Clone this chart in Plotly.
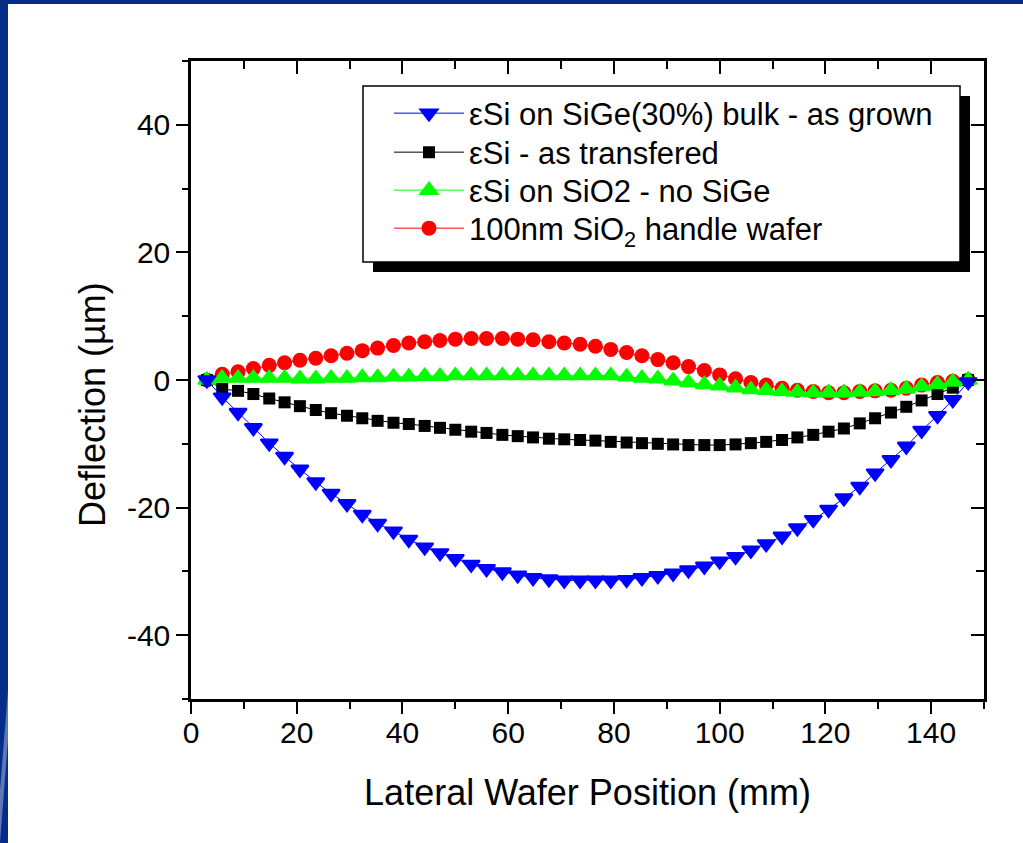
import plotly.graph_objects as go

# ---------------- data ----------------
position_mm = [3.0, 5.9, 8.9, 11.8, 14.8, 17.7, 20.6, 23.6, 26.5, 29.5,
               32.4, 35.3, 38.3, 41.2, 44.2, 47.1, 50.0, 53.0, 55.9, 58.9,
               61.8, 64.7, 67.7, 70.6, 73.6, 76.5, 79.4, 82.4, 85.3, 88.3,
               91.2, 94.1, 97.1, 100.0, 103.0, 105.9, 108.8, 111.8, 114.7, 117.7,
               120.6, 123.5, 126.5, 129.4, 132.4, 135.3, 138.2, 141.2, 144.1, 147.0]

as_grown = [0.0, -2.7, -5.1, -7.5, -9.9, -12.0, -14.0, -16.0, -17.8, -19.4,
            -21.1, -22.5, -23.7, -25.0, -26.2, -27.1, -28.0, -28.9, -29.6, -30.1,
            -30.6, -31.0, -31.2, -31.4, -31.4, -31.4, -31.4, -31.3, -31.0, -30.7,
            -30.3, -29.8, -29.2, -28.4, -27.7, -26.7, -25.7, -24.5, -23.2, -21.9,
            -20.3, -18.5, -16.7, -14.6, -12.5, -10.4, -7.9, -5.6, -3.1, -0.3]

as_transfered = [0.0, -1.4, -1.7, -2.2, -2.9, -3.5, -4.1, -4.7, -5.2, -5.6,
                 -6.0, -6.4, -6.7, -6.9, -7.2, -7.5, -7.8, -8.1, -8.3, -8.6,
                 -8.8, -9.0, -9.2, -9.3, -9.4, -9.5, -9.7, -9.8, -9.9, -10.0,
                 -10.1, -10.2, -10.2, -10.2, -10.1, -9.9, -9.7, -9.4, -9.0, -8.6,
                 -8.1, -7.6, -6.8, -6.0, -5.1, -4.2, -3.2, -2.2, -1.2, 0.0]

no_sige = [0.0, 0.3, 0.3, 0.3, 0.3, 0.3, 0.2, 0.2, 0.3, 0.3,
           0.4, 0.4, 0.5, 0.5, 0.6, 0.6, 0.7, 0.7, 0.7, 0.7,
           0.7, 0.7, 0.7, 0.7, 0.7, 0.7, 0.7, 0.5, 0.3, 0.2,
           -0.1, -0.4, -0.7, -0.9, -1.2, -1.5, -1.6, -1.8, -1.9, -2.0,
           -2.0, -2.0, -1.9, -1.8, -1.6, -1.4, -1.0, -0.7, -0.3, 0.0]

handle_wafer = [0.0, 0.9, 1.3, 1.8, 2.3, 2.7, 3.1, 3.4, 3.8, 4.2,
                4.6, 5.0, 5.4, 5.8, 6.0, 6.2, 6.4, 6.5, 6.5, 6.5,
                6.4, 6.3, 6.0, 5.8, 5.6, 5.3, 4.8, 4.3, 3.8, 3.2,
                2.7, 2.1, 1.5, 0.8, 0.2, -0.4, -0.8, -1.3, -1.6, -1.8,
                -2.0, -2.0, -1.8, -1.7, -1.6, -1.3, -0.8, -0.4, -0.2, 0.0]

series_names = ["εSi on SiGe(30%) bulk - as grown",
                "εSi - as transfered",
                "εSi on SiO2 - no SiGe",
                "100nm SiO<sub>2</sub> handle wafer"]

x_tick_vals = [0, 20, 40, 60, 80, 100, 120, 140]
x_tick_text = ["0", "20", "40", "60", "80", "100", "120", "140"]
y_tick_vals = [-40, -20, 0, 20, 40]
y_tick_text = ["-40", "-20", "0", "20", "40"]

x_title = "Lateral Wafer Position (mm)"
y_title = "Deflection (µm)"

# ---------------- layout geometry ----------------
W, H = 1023, 843
L, R, T, B = 191, 39, 61, 144
PW, PH = W - L - R, H - T - B
FONT = "Arial, 'Liberation Sans', sans-serif"


def px(xp):
    return (xp - L) / PW


def py(yp):
    return 1 - (yp - T) / PH


fig = go.Figure()

# draw order: red, black, green, blue (blue on top); each entry has its own legend row
fig.add_trace(go.Scatter(x=position_mm, y=handle_wafer, name=series_names[3],
                         mode="lines+markers", legend="legend4",
                         line=dict(color="#ff0000", width=1),
                         marker=dict(symbol="circle", size=15, color="#ff0000")))
fig.add_trace(go.Scatter(x=position_mm, y=as_transfered, name=series_names[1],
                         mode="lines+markers", legend="legend2",
                         line=dict(color="#000000", width=1),
                         marker=dict(symbol="square", size=12, color="#000000")))
fig.add_trace(go.Scatter(x=position_mm, y=no_sige, name=series_names[2],
                         mode="lines+markers", legend="legend3",
                         line=dict(color="#00ff00", width=1),
                         marker=dict(symbol="triangle-up", size=15, color="#00ff00",
                                     line=dict(color="#00ff00", width=2))))
fig.add_trace(go.Scatter(x=position_mm, y=as_grown, name=series_names[0],
                         mode="lines+markers", legend="legend",
                         line=dict(color="#0000ff", width=1),
                         marker=dict(symbol="triangle-down", size=15, color="#0000ff",
                                     line=dict(color="#0000ff", width=2))))
# empty trace so that the mirrored (top / right) frame axes are drawn
fig.add_trace(go.Scatter(x=[], y=[], xaxis="x2", yaxis="y2", showlegend=False,
                         hoverinfo="skip"))

axis_common = dict(showline=True, linecolor="black", linewidth=2.5,
                   showgrid=False, zeroline=False, tickcolor="black", tickwidth=2)


def legend_row(yc):
    return dict(x=px(363), y=py(yc), xanchor="left", yanchor="middle",
                bgcolor="rgba(0,0,0,0)", borderwidth=0,
                font=dict(family=FONT, size=31, color="black"),
                itemwidth=70, indentation=26)


fig.update_layout(
    width=W, height=H,
    margin=dict(l=L, r=R, t=T, b=B, autoexpand=False),
    paper_bgcolor="white", plot_bgcolor="white",
    font=dict(family=FONT, color="black", size=30),
    showlegend=True,
    legend=legend_row(113.5),
    legend2=legend_row(152.5),
    legend3=legend_row(190.5),
    legend4=legend_row(228.5),
    xaxis=dict(range=[0, 150], ticks="outside", ticklen=12,
               tickmode="array", tickvals=x_tick_vals, ticktext=x_tick_text,
               tickfont=dict(size=30), ticklabelstandoff=-7,
               minor=dict(ticks="outside", ticklen=7, tickwidth=2, dtick=10,
                          tick0=0, tickcolor="black"),
               title=dict(text=x_title, font=dict(size=36), standoff=33),
               **axis_common),
    yaxis=dict(range=[-50, 50], ticks="outside", ticklen=12,
               tickmode="array", tickvals=y_tick_vals, ticktext=y_tick_text,
               tickfont=dict(size=30), ticklabelstandoff=0,
               minor=dict(ticks="outside", ticklen=6, tickwidth=2, dtick=10,
                          tick0=0, tickcolor="black"),
               **axis_common),
    xaxis2=dict(range=[0, 150], overlaying="x", side="top", anchor="y",
                ticks="inside", ticklen=13, showticklabels=False,
                tickmode="array", tickvals=x_tick_vals,
                minor=dict(ticks="inside", ticklen=8, tickwidth=2, dtick=10,
                           tick0=0, tickcolor="black"),
                **axis_common),
    yaxis2=dict(range=[-50, 50], overlaying="y", side="right", anchor="x",
                ticks="inside", ticklen=13, showticklabels=False,
                tickmode="array", tickvals=y_tick_vals,
                minor=dict(ticks="inside", ticklen=8, tickwidth=2, dtick=10,
                           tick0=0, tickcolor="black"),
                **axis_common),
    annotations=[dict(text=y_title, textangle=-90, xref="paper", yref="paper",
                      x=px(92), y=py(405), xanchor="center", yanchor="middle",
                      showarrow=False, font=dict(family=FONT, size=36, color="black"))],
    shapes=[
        # legend drop shadow
        dict(type="rect", xref="paper", yref="paper", layer="above",
             x0=px(373), x1=px(970), y0=py(272), y1=py(96),
             fillcolor="black", line=dict(width=0)),
        # legend frame
        dict(type="rect", xref="paper", yref="paper", layer="above",
             x0=px(363), x1=px(960), y0=py(262), y1=py(86),
             fillcolor="white", line=dict(color="black", width=1.5)),
        # slide frame (dark blue) - top and left strips
        dict(type="rect", xref="paper", yref="paper", layer="below",
             x0=px(0), x1=px(W), y0=py(4), y1=py(0),
             fillcolor="#042c88", line=dict(width=0)),
        dict(type="rect", xref="paper", yref="paper", layer="below",
             x0=px(0), x1=px(8), y0=py(H), y1=py(0),
             fillcolor="#042c88", line=dict(width=0)),
        dict(type="path", xref="paper", yref="paper", layer="below",
             path="M {a},{b} L {c},{d} L {c},{e} L {a},{f} Z".format(
                 a=px(0), b=py(790), c=px(8), d=py(690), e=py(740), f=py(843)),
             fillcolor="rgba(200,210,230,0.45)", line=dict(width=0)),
    ],
)

fig.write_html("out.html",
               config={"displayModeBar": False},
               post_script="document.body.style.margin='0px';"
                           "document.body.style.overflow='hidden';")
